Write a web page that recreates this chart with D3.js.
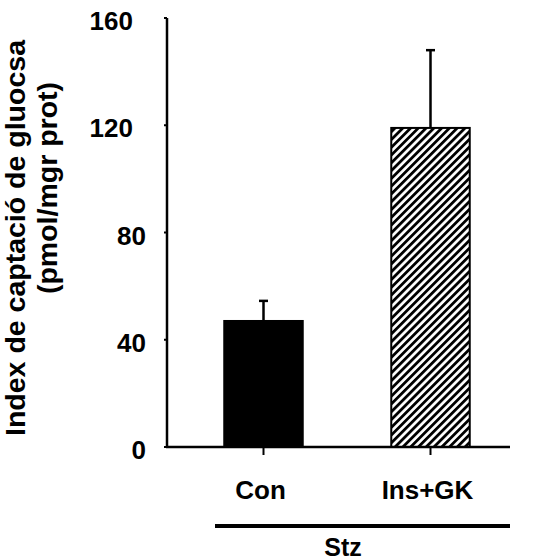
<!DOCTYPE html>
<html>
<head>
<meta charset="utf-8">
<script src="https://cdn.jsdelivr.net/npm/d3@7"></script>
<style>
  html, body { margin:0; padding:0; background:#fff; }
  text { font-family: "Liberation Sans", Arial, sans-serif; font-weight:bold; fill:#000; }
</style>
</head>
<body>
<div id="chart"></div>
<script>
const categories = ['Con', 'Ins+GK'];
const means = [47, 119];
const errors = [7.5, 29];
const yTicks = [0, 40, 80, 120, 160];
const groupLabel = 'Stz';
const titleLines = ['Index de captació de gluocsa', '(pmol/mgr prot)'];

const W = 534, H = 560;
const svg = d3.select('#chart').append('svg').attr('width', W).attr('height', H);
const defs = svg.append('defs');

// "/" hatch
const pat = defs.append('pattern').attr('id', 'hatch')
  .attr('patternUnits', 'userSpaceOnUse').attr('width', 5.5).attr('height', 5.5)
  .attr('patternTransform', 'rotate(45)');
pat.append('rect').attr('width', 5.5).attr('height', 5.5).attr('fill', '#fff');
pat.append('rect').attr('width', 2.8).attr('height', 5.5).attr('fill', '#000');

const y = d3.scaleLinear().domain([0, 160]).range([447, 18]);
const x = d3.scaleBand().domain(categories).range([180, 514])
  .paddingInner(0.53).paddingOuter(0.265);
const axisX0 = 167, axisX1 = 510;

// y axis
svg.append('line').attr('x1', axisX0).attr('x2', axisX0)
  .attr('y1', y(0)).attr('y2', y(160))
  .attr('stroke', '#000').attr('stroke-width', 2.5);
svg.selectAll('line.ytick').data(yTicks).join('line')
  .attr('x1', axisX0 - 3).attr('x2', axisX0)
  .attr('y1', d => y(d)).attr('y2', d => y(d))
  .attr('stroke', '#000').attr('stroke-width', 2);
svg.selectAll('text.ytick').data(yTicks).join('text')
  .attr('class', 'ytick')
  .attr('x', d => d >= 100 ? 133 : 146)
  .attr('y', d => y(d) + 3)
  .attr('dominant-baseline', 'central')
  .attr('text-anchor', 'end')
  .attr('font-size', 26)
  .text(d => d);

// bars
svg.selectAll('rect.bar').data(categories).join('rect')
  .attr('x', d => x(d)).attr('width', x.bandwidth())
  .attr('y', (d, i) => y(means[i])).attr('height', (d, i) => y(0) - y(means[i]))
  .attr('fill', (d, i) => i === 0 ? '#000' : 'url(#hatch)')
  .attr('stroke', '#000').attr('stroke-width', 2);

// error bars (upper only)
categories.forEach((c, i) => {
  const cx = x(c) + x.bandwidth() / 2;
  svg.append('line').attr('x1', cx).attr('x2', cx)
    .attr('y1', y(means[i])).attr('y2', y(means[i] + errors[i]))
    .attr('stroke', '#000').attr('stroke-width', 2.5);
  svg.append('line').attr('x1', cx - 4.5).attr('x2', cx + 4.5)
    .attr('y1', y(means[i] + errors[i])).attr('y2', y(means[i] + errors[i]))
    .attr('stroke', '#000').attr('stroke-width', 2.5);
});

// x axis
svg.append('line').attr('x1', axisX0 - 1).attr('x2', axisX1)
  .attr('y1', y(0)).attr('y2', y(0))
  .attr('stroke', '#000').attr('stroke-width', 2.5);
svg.selectAll('line.xtick').data(categories).join('line')
  .attr('x1', d => x(d) + x.bandwidth() / 2).attr('x2', d => x(d) + x.bandwidth() / 2)
  .attr('y1', y(0)).attr('y2', y(0) + 8)
  .attr('stroke', '#000').attr('stroke-width', 2);
svg.selectAll('text.xlab').data(categories).join('text')
  .attr('x', d => x(d) + x.bandwidth() / 2 - 3)
  .attr('y', 499)
  .attr('text-anchor', 'middle')
  .attr('font-size', 26)
  .text(d => d);

// group bracket
svg.append('line').attr('x1', 215).attr('x2', 510).attr('y1', 526).attr('y2', 526)
  .attr('stroke', '#000').attr('stroke-width', 4);
svg.append('text').attr('x', 343).attr('y', 556)
  .attr('text-anchor', 'middle').attr('font-size', 25).text(groupLabel);

// y title
svg.append('text')
  .attr('transform', 'translate(25,238) rotate(-90)')
  .attr('text-anchor', 'middle').attr('font-size', 28.5)
  .text(titleLines[0]);
svg.append('text')
  .attr('transform', 'translate(57,188) rotate(-90)')
  .attr('text-anchor', 'middle').attr('font-size', 28.5)
  .text(titleLines[1]);
</script>
</body>
</html>
